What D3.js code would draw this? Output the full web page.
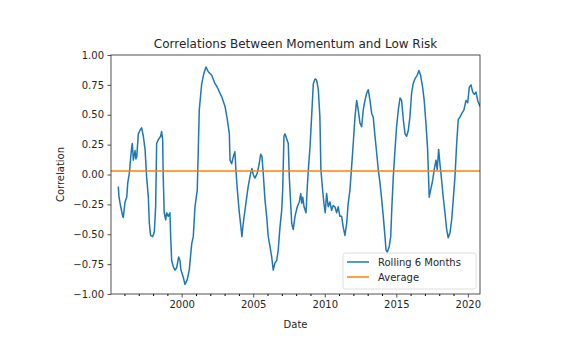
<!DOCTYPE html>
<html>
<head>
<meta charset="utf-8">
<script src="https://cdn.jsdelivr.net/npm/d3@7"></script>
<style>
  html, body { margin: 0; padding: 0; background: #fff; }
  svg text { font-family: "DejaVu Sans", sans-serif; fill: #262626; }
</style>
</head>
<body>
<div id="chart"></div>
<script>
// rolling 6-month correlation, sampled as decimal years
const dates = [
  1995.57, 1995.62, 1995.74, 1995.88, 1995.92, 1996.04, 1996.16, 1996.23, 1996.34, 1996.44,
  1996.51, 1996.55, 1996.62, 1996.74, 1996.80, 1996.86, 1996.97, 1997.09, 1997.20, 1997.32,
  1997.44, 1997.55, 1997.67, 1997.74, 1997.83, 1997.97, 1998.09, 1998.18, 1998.25, 1998.36,
  1998.53, 1998.60, 1998.67, 1998.71, 1998.78, 1998.88, 1998.95, 1999.06, 1999.18, 1999.23,
  1999.30, 1999.41, 1999.53, 1999.65, 1999.79, 1999.88, 1999.95, 2000.11, 2000.23, 2000.39,
  2000.53, 2000.70, 2000.81, 2000.93, 2001.09, 2001.23, 2001.40, 2001.56, 2001.70, 2001.86,
  2002.10, 2002.33, 2002.49, 2002.68, 2002.80, 2003.03, 2003.19, 2003.33, 2003.38, 2003.49,
  2003.61, 2003.72, 2003.79, 2003.89, 2004.03, 2004.14, 2004.21, 2004.30, 2004.49, 2004.65,
  2004.82, 2004.91, 2005.00, 2005.12, 2005.28, 2005.42, 2005.52, 2005.61, 2005.70, 2005.82,
  2005.94, 2006.05, 2006.17, 2006.29, 2006.40, 2006.52, 2006.64, 2006.75, 2006.87, 2006.99,
  2007.06, 2007.15, 2007.22, 2007.34, 2007.45, 2007.52, 2007.57, 2007.69, 2007.80, 2007.92,
  2008.08, 2008.22, 2008.32, 2008.39, 2008.46, 2008.55, 2008.69, 2008.78, 2008.87, 2008.97,
  2009.08, 2009.20, 2009.32, 2009.43, 2009.55, 2009.66, 2009.73, 2009.85, 2009.94, 2010.03,
  2010.13, 2010.24, 2010.36, 2010.48, 2010.59, 2010.71, 2010.83, 2010.94, 2011.06, 2011.18,
  2011.29, 2011.41, 2011.53, 2011.64, 2011.76, 2011.88, 2011.99, 2012.11, 2012.23, 2012.34,
  2012.46, 2012.58, 2012.69, 2012.81, 2012.93, 2013.04, 2013.16, 2013.28, 2013.39, 2013.51,
  2013.63, 2013.74, 2013.86, 2013.98, 2014.09, 2014.21, 2014.28, 2014.37, 2014.51, 2014.61,
  2014.68, 2014.79, 2014.91, 2015.02, 2015.14, 2015.26, 2015.37, 2015.49, 2015.61, 2015.72,
  2015.84, 2015.95, 2016.07, 2016.18, 2016.30, 2016.46, 2016.58, 2016.70, 2016.84, 2016.95,
  2017.07, 2017.19, 2017.30, 2017.40, 2017.54, 2017.65, 2017.77, 2017.86, 2017.96, 2018.05,
  2018.17, 2018.28, 2018.40, 2018.52, 2018.63, 2018.75, 2018.87, 2018.98, 2019.10, 2019.22,
  2019.33, 2019.45, 2019.57, 2019.73, 2019.87, 2019.99, 2020.10, 2020.22, 2020.34, 2020.45,
  2020.57, 2020.69, 2020.85
];
const rolling6m = [
  -0.10, -0.19, -0.27, -0.35, -0.36, -0.23, -0.19, -0.07, 0.01, 0.15,
   0.23,  0.26,  0.12,  0.20,  0.13,  0.15,  0.34,  0.37,  0.39,  0.32,
   0.21, -0.02, -0.19, -0.41, -0.51, -0.52, -0.48, -0.27,  0.26,  0.29,
   0.32,  0.36,  0.29, -0.02, -0.32, -0.38, -0.32, -0.35, -0.32, -0.52,
  -0.72, -0.77, -0.80, -0.78, -0.69, -0.72, -0.80, -0.86, -0.92, -0.88,
  -0.80, -0.58, -0.52, -0.27, -0.13,  0.54,  0.76,  0.85,  0.90,  0.86,
   0.83,  0.76,  0.73,  0.68,  0.65,  0.57,  0.46,  0.34,  0.12,  0.09,
   0.15,  0.19,  0.04, -0.13, -0.32, -0.44, -0.52, -0.41, -0.24, -0.10,
   0.01,  0.05,  0.00, -0.03,  0.01,  0.09,  0.17,  0.15,  0.01, -0.21,
  -0.35, -0.52, -0.60, -0.69, -0.80, -0.74, -0.72, -0.63, -0.44, -0.30,
  -0.13,  0.32,  0.34,  0.30,  0.26, -0.02, -0.13, -0.41, -0.46, -0.35,
  -0.27, -0.23, -0.16, -0.24, -0.19, -0.27, -0.32, -0.10,  0.07,  0.23,
   0.48,  0.76,  0.80,  0.79,  0.71,  0.48,  0.04, -0.13, -0.24, -0.32,
  -0.16, -0.27, -0.23, -0.30, -0.26, -0.27, -0.32, -0.27, -0.35, -0.35,
  -0.44, -0.51, -0.41, -0.24, -0.13,  0.07,  0.26,  0.48,  0.62,  0.54,
   0.43,  0.40,  0.54,  0.62,  0.68,  0.71,  0.62,  0.51,  0.48,  0.32,
   0.18,  0.04, -0.07, -0.21, -0.35, -0.52, -0.63, -0.65, -0.60, -0.52,
  -0.30, -0.02,  0.21,  0.40,  0.54,  0.64,  0.62,  0.46,  0.34,  0.32,
   0.37,  0.48,  0.68,  0.76,  0.80,  0.83,  0.87,  0.83,  0.73,  0.62,
   0.43,  0.21, -0.19, -0.13, -0.05,  0.04,  0.12,  0.04,  0.21,  0.09,
  -0.05, -0.19, -0.32, -0.46, -0.53, -0.49, -0.38, -0.21, -0.02,  0.26,
   0.46,  0.48,  0.51,  0.54,  0.62,  0.60,  0.73,  0.75,  0.69,  0.67,
   0.69,  0.62,  0.57
];
const averageValue = 0.03;

const yTicks = [-1.00, -0.75, -0.50, -0.25, 0.00, 0.25, 0.50, 0.75, 1.00];
const xMajorTicks = [2000, 2005, 2010, 2015, 2020];
const xMinorTicks = d3.range(1996, 2021).filter(y => y % 5 !== 0);
const seriesNames = ['Rolling 6 Months', 'Average'];

const W = 562, H = 345;
const margin = {top: 55, right: 82, bottom: 51, left: 111};
const innerW = W - margin.left - margin.right;
const innerH = H - margin.top - margin.bottom;
const blue = '#1f77b4', orange = '#ff7f0e';

const svg = d3.select('#chart').append('svg')
  .attr('width', W).attr('height', H);

const g = svg.append('g')
  .attr('transform', `translate(${margin.left},${margin.top})`);

const x = d3.scaleLinear().domain([1995.06, 2020.85]).range([0, innerW]);
const y = d3.scaleLinear().domain([-1, 1]).range([innerH, 0]);

g.append('defs').append('clipPath').attr('id', 'plot-clip')
  .append('rect').attr('width', innerW).attr('height', innerH);

const series = dates.map((d, i) => ({date: d, value: rolling6m[i]}));

const line = d3.line().x(d => x(d.date)).y(d => y(d.value));

const plot = g.append('g').attr('clip-path', 'url(#plot-clip)');

plot.append('path')
  .datum(series)
  .attr('d', line)
  .attr('fill', 'none')
  .attr('stroke', blue)
  .attr('stroke-width', 1.5)
  .attr('stroke-linejoin', 'round');

plot.append('line')
  .attr('x1', 0).attr('x2', innerW)
  .attr('y1', y(averageValue)).attr('y2', y(averageValue))
  .attr('stroke', orange)
  .attr('stroke-width', 1.5);

// axes
const xAxis = g.append('g').attr('transform', `translate(0,${innerH})`)
  .call(d3.axisBottom(x).tickValues(xMajorTicks).tickFormat(d3.format('d'))
    .tickSizeInner(3.5).tickSizeOuter(0).tickPadding(3.5));
g.append('g').attr('transform', `translate(0,${innerH})`)
  .call(d3.axisBottom(x).tickValues(xMinorTicks).tickFormat('')
    .tickSizeInner(2).tickSizeOuter(0))
  .select('.domain').remove();

const yAxis = g.append('g')
  .call(d3.axisLeft(y).tickValues(yTicks).tickFormat(d3.format('.2f'))
    .tickSizeInner(3.5).tickSizeOuter(0).tickPadding(3.5));

[xAxis, yAxis].forEach(a => {
  a.selectAll('text').attr('font-size', 10).attr('font-family', '"DejaVu Sans", sans-serif')
    .attr('fill', '#262626');
  a.selectAll('.tick line').attr('stroke', '#262626').attr('stroke-width', 0.8);
});
yAxis.selectAll('text').text(d => d3.format('.2f')(d).replace('-', '\u2212'));
g.selectAll('.domain').remove();

// frame
g.append('rect')
  .attr('width', innerW).attr('height', innerH)
  .attr('fill', 'none').attr('stroke', '#262626').attr('stroke-width', 0.8);

// labels
svg.append('text')
  .attr('x', margin.left + innerW / 2).attr('y', 48)
  .attr('text-anchor', 'middle').attr('font-size', 12)
  .text('Correlations Between Momentum and Low Risk');

svg.append('text')
  .attr('x', margin.left + innerW / 2).attr('y', 328)
  .attr('text-anchor', 'middle').attr('font-size', 10)
  .text('Date');

svg.append('text')
  .attr('transform', `translate(64,${margin.top + innerH / 2}) rotate(-90)`)
  .attr('text-anchor', 'middle').attr('font-size', 10)
  .text('Correlation');

// legend
const legend = g.append('g').attr('transform', `translate(${innerW - 137},${innerH - 41})`);
legend.append('rect')
  .attr('width', 133).attr('height', 36).attr('rx', 2.5)
  .attr('fill', 'rgba(255,255,255,0.8)')
  .attr('stroke', '#d6d6d6').attr('stroke-width', 0.8);

seriesNames.forEach((name, i) => {
  const row = legend.append('g').attr('transform', `translate(0,${9 + i * 15})`);
  row.append('line')
    .attr('x1', 4).attr('x2', 26).attr('y1', 0).attr('y2', 0)
    .attr('stroke', i === 0 ? blue : orange).attr('stroke-width', 1.5);
  row.append('text')
    .attr('x', 35).attr('y', 3.5).attr('font-size', 10)
    .text(name);
});
</script>
</body>
</html>
